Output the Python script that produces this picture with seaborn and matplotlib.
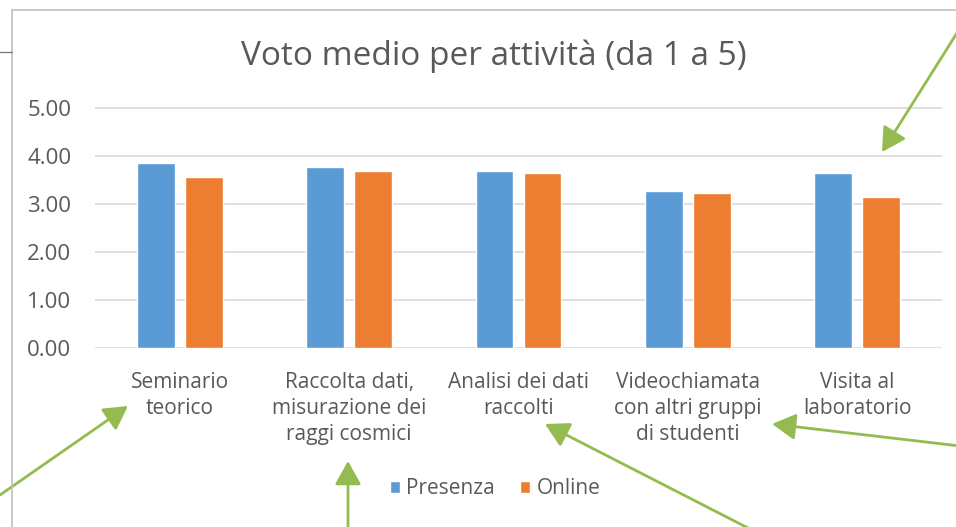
import numpy as np
import pandas as pd
import matplotlib
matplotlib.use("Agg")
import matplotlib.pyplot as plt
from matplotlib.lines import Line2D
from matplotlib.patches import FancyArrowPatch
import seaborn as sb

categorie = ["Seminario\nteorico",
             "Raccolta dati,\nmisurazione dei\nraggi cosmici",
             "Analisi dei dati\nraccolti",
             "Videochiamata\ncon altri gruppi\ndi studenti",
             "Visita al\nlaboratorio"]
presenza = [3.85, 3.77, 3.68, 3.27, 3.64]
online = [3.56, 3.68, 3.64, 3.22, 3.14]
serie = ["Presenza", "Online"]
yticks = [0, 1, 2, 3, 4, 5]

W, H = 956, 527
GRIGIO = "#595959"
VERDE = "#93BB50"

data = pd.DataFrame({
    "attivita": categorie * 2,
    "voto": presenza + online,
    "modalita": [serie[0]] * len(categorie) + [serie[1]] * len(categorie),
})

sb.set_style("white")
plt.rcParams["font.family"] = ["Open Sans", "DejaVu Sans"]

fig = plt.figure(figsize=(W / 100, H / 100), dpi=100)
ymax = 5.05
y0 = 348
ytop = y0 - ymax * 48
ax = fig.add_axes([95 / W, 1 - y0 / H, (942 - 95) / W, (y0 - ytop) / H])

sb.barplot(data=data, x="attivita", y="voto", hue="modalita",
           palette=["#5B9BD5", "#ED7D31"], width=0.567, gap=0.21,
           saturation=1, ax=ax, legend=True)

ax.set_ylim(0, ymax)
ax.set_xlim(-0.5, 4.5)
ax.set_yticks(yticks)
ax.set_yticklabels([f"{v:.2f}" for v in yticks])
ax.yaxis.grid(True, color="#D9D9D9", linewidth=1.2)
ax.set_axisbelow(True)
for s in ax.spines.values():
    s.set_visible(False)
ax.set_xlabel("")
ax.set_ylabel("")
ax.tick_params(axis="y", length=0, pad=17, labelsize=16, labelcolor=GRIGIO)
ax.tick_params(axis="x", length=0, pad=17, labelsize=15, labelcolor=GRIGIO)
for t in ax.get_xticklabels():
    t.set_linespacing(1.34)
    t.set_verticalalignment("top")

leg = ax.legend(loc="center", bbox_to_anchor=(495 / W, 1 - 489 / H),
                bbox_transform=fig.transFigure, ncol=2, frameon=False,
                handlelength=0.5, handleheight=0.5, handletextpad=0.3,
                columnspacing=1.2, fontsize=15)
for t in leg.get_texts():
    t.set_color(GRIGIO)

fig.text(494 / W, 1 - 56 / H, "Voto medio per attività (da 1 a 5)",
         ha="center", va="center", fontsize=24, color=GRIGIO)

# cornice del riquadro
fig.add_artist(Line2D([12 / W, 1], [1 - 10 / H, 1 - 10 / H], color="#BFBFBF", lw=1.2))
fig.add_artist(Line2D([12 / W, 12 / W], [1 - 10 / H, 0], color="#BFBFBF", lw=1.2))
fig.add_artist(Line2D([0, 12 / W], [1 - 52 / H, 1 - 52 / H], color="#7F7F7F", lw=1.0))

# frecce verdi
frecce = [((962, 25), (882, 152)),
          ((0, 495), (128, 406)),
          ((348, 530), (348, 461)),
          ((752, 530), (545, 424)),
          ((960, 446), (772, 424))]
for (x1, y1), (x2, y2) in frecce:
    fig.add_artist(FancyArrowPatch(
        (x1 / W, 1 - y1 / H), (x2 / W, 1 - y2 / H),
        transform=fig.transFigure, arrowstyle="-|>,head_length=9,head_width=5",
        mutation_scale=1.6, color=VERDE, lw=2.0, shrinkA=0, shrinkB=0))

fig.savefig("out.png", dpi=100)
